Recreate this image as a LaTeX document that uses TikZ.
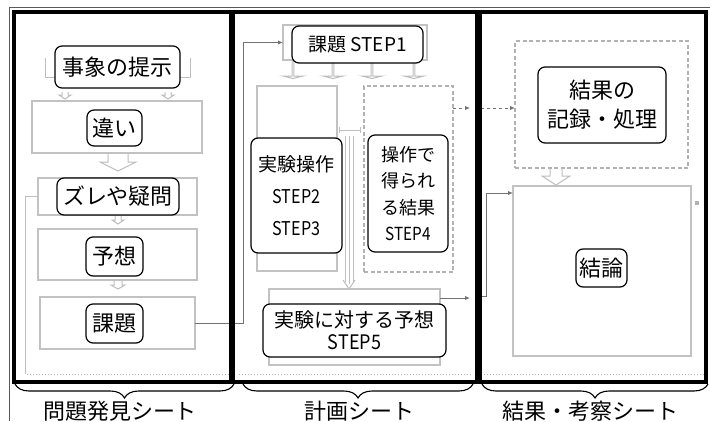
\documentclass[tikz,border=0pt]{standalone}
\usepackage{fontspec}
\newfontfamily\jp{Noto Sans CJK JP}
\usetikzlibrary{arrows.meta,decorations.pathreplacing,calc}
\tikzset{
  gbox/.style={draw=black!24, line width=1.3pt, rectangle, inner sep=0pt, outer sep=0pt},
  gdbox/.style={gbox, draw=black!30, dash pattern=on 4pt off 2.5pt},
  lbl/.style={draw=black, line width=1.2pt, rounded corners=7pt, fill=white, align=center, inner sep=0pt, outer sep=0pt},
  gline/.style={draw=black!25, line width=1pt},
  garrow/.style={draw=black!26, line width=1pt, line join=miter},
  conn/.style={draw=black!55, line width=1pt},
  tip/.style={-{Latex[length=5pt,width=4.5pt]}},
  panel/.style={draw=black, line width=4pt},
  pics/harr/.style n args={4}{code={\draw[garrow] (-#2,0)--(-#2,#1)--(-#3,#1)--(0,#1+#4)--(#3,#1)--(#2,#1)--(#2,0);}},
  bottomlbl/.style={font=\jp\fontsize{22}{26}\selectfont, inner sep=0pt}
}
\begin{document}
\begin{tikzpicture}[x=1pt,y=-1pt]
\useasboundingbox (0,0) rectangle (710,421);
% outer thin frame
\draw[draw=black!65, line width=0.8pt] (9,421) -- (9,7) -- (710,7);
% ---------- panel 1 grey structure ----------
\draw[gline] (45,58) -- (45,77) -- (190,77) -- (190,58);
\pic at (65,92) {harr={3}{3}{6}{4}};
\pic at (168,92) {harr={3}{3}{6}{4}};
\node[gbox, minimum width=170pt, minimum height=52pt] (b1) at (117,127) {};
\pic at (118,154) {harr={8}{10}{18}{9}};
\node[gbox, minimum width=159pt, minimum height=37pt] (b2) at (117.5,196.5) {};
\pic at (118,216) {harr={4}{3}{6}{4}};
\node[gbox, minimum width=159pt, minimum height=51pt] (b3) at (117.5,254.5) {};
\pic at (118,281) {harr={4}{4}{7}{4}};
\node[gbox, minimum width=155pt, minimum height=52pt] (b4) at (117.5,323) {};
\coordinate (k7) at (25,374);
\draw[gline, line width=0.8pt] (b2.west) -| (k7);
\draw[draw=black!30, line width=1pt, dotted] (27,374) -- (229,374);
% ---------- panel 2 grey structure ----------
\node[gbox, minimum width=144pt, minimum height=35pt] (s1box) at (355,42.5) {};
\foreach \xx in {293,333,372,414} {\pic at (\xx,60) {harr={16}{0.8}{10}{2.5}};}
\node[gbox, minimum width=80pt, minimum height=185pt] (lbox) at (297,178.5) {};
\node[gdbox, minimum width=89pt, minimum height=186pt] (rb) at (408.5,179) {};
\draw[gline, {Bar[width=6pt]}-{Bar[width=6pt]}] (339,130) -- (361,130);
\draw[gline] (345,136) -- (345,282);
\draw[gline] (349,136) -- (349,284);
\draw[gline] (353,136) -- (353,282);
\draw[gline] (343,280) -- (349,289) -- (355,280);
\node[gbox, minimum width=171pt, minimum height=76pt] (lb) at (354.5,327) {};
\draw[draw=black!30, line width=1pt, dotted] (239,374) -- (473,374);
% ---------- panel 3 grey structure ----------
\node[gdbox, minimum width=173pt, minimum height=127pt] (d3) at (601.5,104.5) {};
\pic at (556,168) {harr={8}{6}{14}{9}};
\node[gbox, minimum width=178pt, minimum height=170pt] (cbox) at (602,271) {};
\fill[black!30] (695,201) rectangle (699,205);
\draw[draw=black!30, line width=1pt, dotted] (484,374) -- (704,374);
% ---------- connectors ----------
\coordinate (k1) at (243,42.5);
\draw[conn, tip] (b4.east) -| (k1) -- (s1box.west);
\coordinate (k2) at (470,108);
\coordinate (k3) at (481,108);
\draw[conn, dashed, tip] (rb.east |- k2) -- (k2);
\draw[conn, dashed, tip] (k3) -- (k3 -| d3.west);
\coordinate (k4) at (470,298);
\draw[conn, tip] (lb.east |- k4) -- (k4);
\coordinate (k5) at (480,296);
\coordinate (k6) at (486,193);
\draw[conn, tip] (k5) -| (k6) -- (k6 -| cbox.west);
% ---------- panels ----------
\draw[panel] (14,12) rectangle (231,382);
\draw[panel] (233,12) rectangle (477,382);
\draw[panel] (480,12) rectangle (706,382);
% ---------- labels ----------
\node[lbl, minimum width=125pt, minimum height=42pt, font=\jp\fontsize{22}{28}\selectfont] (ev) at (117.5,67) {事象の提示};
\node[lbl, minimum width=55pt, minimum height=36pt, font=\jp\fontsize{22}{28}\selectfont] (df) at (114.5,128) {違い};
\node[lbl, minimum width=122pt, minimum height=37pt, font=\jp\fontsize{22}{28}\selectfont] (zq) at (118,196.5) {ズレや疑問};
\node[lbl, minimum width=57pt, minimum height=39pt, font=\jp\fontsize{22}{28}\selectfont] (yo) at (114.5,256.5) {予想};
\node[lbl, minimum width=57pt, minimum height=39pt, font=\jp\fontsize{22}{28}\selectfont] (kd) at (114.5,323.5) {課題};
\node[lbl, minimum width=131pt, minimum height=37pt, font=\jp\fontsize{19}{24}\selectfont] (s1) at (357.5,44.5) {課題 STEP1};
\node[lbl, minimum width=91pt, minimum height=115pt, font=\jp\fontsize{19}{32}\selectfont] (s2) at (296.5,195.5) {実験操作\\\scalebox{0.85}[1]{STEP2}\\\scalebox{0.85}[1]{STEP3}};
\node[lbl, minimum width=80pt, minimum height=117pt, font=\jp\fontsize{18}{26.5}\selectfont] (s4) at (408,193.5) {操作で\\得られ\\る結果\\\scalebox{0.85}[1]{STEP4}};
\node[lbl, minimum width=183pt, minimum height=53pt, font=\jp\fontsize{20}{22}\selectfont] (s5) at (354.5,330.5) {実験に対する予想\\\scalebox{0.9}[1]{STEP5}};
\node[lbl, minimum width=128pt, minimum height=76pt, font=\jp\fontsize{22}{29}\selectfont] (rr) at (602,105) {結果の\\記録・処理};
\node[lbl, minimum width=51pt, minimum height=38pt, font=\jp\fontsize{22}{28}\selectfont] (cl) at (601.5,268) {結論};
% ---------- braces ----------
\draw[line width=1.1pt, decorate, decoration={brace, mirror, amplitude=14pt}] (15,384) -- (234,384);
\draw[line width=1.1pt, decorate, decoration={brace, mirror, amplitude=14pt}] (243,384) -- (473,384);
\draw[line width=1.1pt, decorate, decoration={brace, mirror, amplitude=14pt}] (482,384) -- (708,384);
\node[bottomlbl] (t1) at (120,411) {問題発見シート};
\node[bottomlbl] (t2) at (359,411) {計画シート};
\node[bottomlbl] (t3) at (590,411) {結果・考察シート};
\end{tikzpicture}
\end{document}
